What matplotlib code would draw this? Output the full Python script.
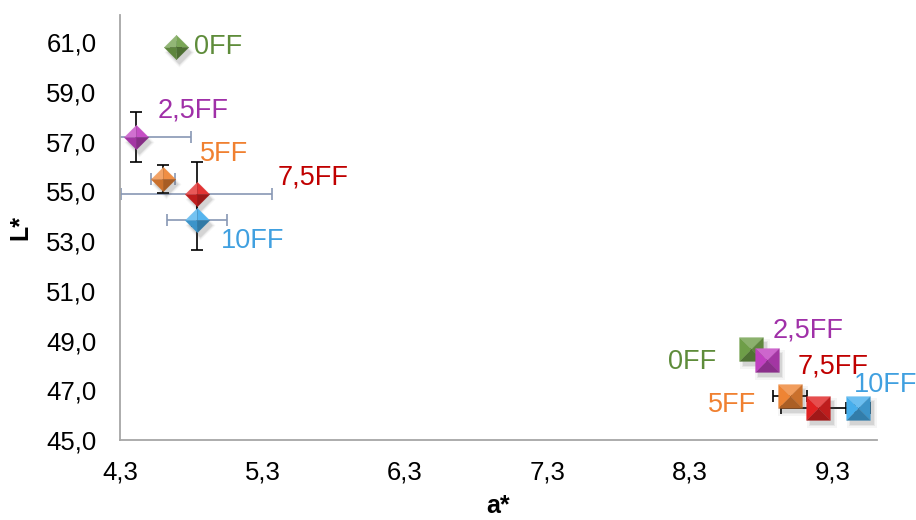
import matplotlib
matplotlib.use("Agg")
import matplotlib.pyplot as plt
import numpy as np
from matplotlib import transforms
from matplotlib.colors import to_rgb
from matplotlib.ticker import FuncFormatter

plt.rcParams["font.family"] = ["Liberation Sans", "DejaVu Sans"]

labels = ["0FF", "2,5FF", "5FF", "7,5FF", "10FF"]
colors = ["#6E9E48", "#C040C0", "#EE8434", "#E02222", "#46AEEC"]
text_colors = ["#5E8C3A", "#A030A8", "#F08030", "#C00000", "#40A0E0"]

# diamond series
a_d = [4.69, 4.41, 4.60, 4.84, 4.84]
L_d = [60.80, 57.20, 55.50, 54.90, 53.85]
a_d_err = [0.0, 0.39, 0.085, 0.53, 0.21]
L_d_err = [0.0, 1.01, 0.57, 1.29, 1.21]

# square series
a_s = [8.73, 8.84, 9.00, 9.20, 9.48]
L_s = [48.65, 48.22, 46.78, 46.27, 46.27]
a_s_err = [0.0, 0.0, 0.12, 0.26, 0.085]
L_s_err = [0.0, 0.0, 0.0, 0.0, 0.0]

# label offsets in points (ha, dx, dy)
d_offsets = [("left", 13, 0), ("left", 16, 19), ("left", 27, 18), ("left", 58, 12), ("left", 17, -15)]
s_offsets = [("right", -25, -9), ("left", 4, 21), ("right", -24, -7), ("left", -15, 30), ("left", -3, 17)]


def shade(c, f):
    c = np.array(to_rgb(c))
    if f >= 0:
        return tuple(c + (1 - c) * f)
    return tuple(c * (1 + f))


DIAMOND = [
    ([(0, 0), (-1, 0), (0, 1)], 0.25),
    ([(0, 0), (0, 1), (1, 0)], 0.08),
    ([(0, 0), (1, 0), (0, -1)], -0.3),
    ([(0, 0), (0, -1), (-1, 0)], -0.15),
]
SQUARE = [
    ([(0, 0), (-1, 1), (1, 1)], 0.2),
    ([(0, 0), (-1, -1), (-1, 1)], 0.0),
    ([(0, 0), (1, 1), (1, -1)], -0.15),
    ([(0, 0), (1, -1), (-1, -1)], -0.28),
]
DIAMOND_FULL = [(0, 1), (1, 0), (0, -1), (-1, 0)]
SQUARE_FULL = [(-1, 1), (1, 1), (1, -1), (-1, -1)]


def faceted(ax, fig, x, y, facets, full, color, ms):
    shadow = transforms.offset_copy(ax.transData, fig=fig, x=2.5, y=-3.5, units="points")
    for extra, al in [(4, 0.05), (2, 0.08), (0, 0.12)]:
        ax.plot(x, y, marker=full, ms=ms + extra, color="0.3", alpha=al, mew=0,
                ls="none", transform=shadow, zorder=3)
    for verts, f in facets:
        ax.plot(x, y, marker=verts, ms=ms, color=shade(color, f), mew=0.3,
                mec=shade(color, f), ls="none", zorder=4)


fig, ax = plt.subplots(figsize=(9.16, 5.2), dpi=100)
fig.subplots_adjust(left=0.131, right=0.957, bottom=0.154, top=0.971)

ax.errorbar(a_d, L_d, xerr=a_d_err, fmt="none", ecolor="#8797B4", elinewidth=1.2,
            capsize=4.5, capthick=1.2, zorder=2)
ax.errorbar(a_d, L_d, yerr=L_d_err, fmt="none", ecolor="black", elinewidth=1.2,
            capsize=4.5, capthick=1.2, zorder=2)
ax.errorbar(a_s, L_s, xerr=a_s_err, fmt="none", ecolor="black", elinewidth=1.2,
            capsize=4.5, capthick=1.2, zorder=2)

for i in range(len(labels)):
    faceted(ax, fig, a_d[i], L_d[i], DIAMOND, DIAMOND_FULL, colors[i], 17.5)
    faceted(ax, fig, a_s[i], L_s[i], SQUARE, SQUARE_FULL, colors[i], 17)
    ha, dx, dy = d_offsets[i]
    ax.annotate(labels[i], (a_d[i], L_d[i]), xytext=(dx, dy), textcoords="offset points",
                ha=ha, va="center", fontsize=19.5, color=text_colors[i], zorder=5)
    ha, dx, dy = s_offsets[i]
    ax.annotate(labels[i], (a_s[i], L_s[i]), xytext=(dx, dy), textcoords="offset points",
                ha=ha, va="center", fontsize=19.5, color=text_colors[i], zorder=5)

ax.set_xlim(4.3, 9.61)
ax.set_ylim(45, 62.1)
ax.set_xticks(np.arange(4.3, 9.31, 1.0))
ax.set_yticks(np.arange(45, 61.1, 2.0))
fmt = FuncFormatter(lambda v, p: f"{v:.1f}".replace(".", ","))
ax.xaxis.set_major_formatter(fmt)
ax.yaxis.set_major_formatter(fmt)
ax.tick_params(length=0, labelsize=18.5)
ax.tick_params(axis="x", pad=15)
ax.tick_params(axis="y", pad=17)

for s in ["top", "right"]:
    ax.spines[s].set_visible(False)
for s in ["left", "bottom"]:
    ax.spines[s].set_color("#A6A6A6")
    ax.spines[s].set_linewidth(1.3)

ax.set_xlabel("a*", fontsize=18, fontweight="bold", labelpad=7)
ax.set_ylabel("L*", fontsize=18, fontweight="bold", labelpad=10)

fig.savefig("out.png", dpi=100)
